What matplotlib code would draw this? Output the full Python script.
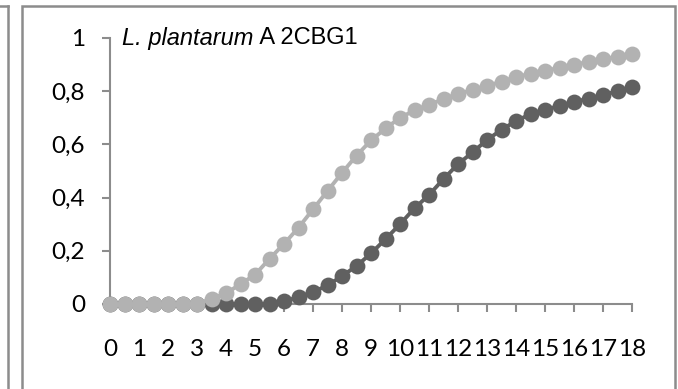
import matplotlib.pyplot as plt
import matplotlib.patches as patches
from matplotlib.lines import Line2D

# time points (half steps) and the two growth curves
t = [i * 0.5 for i in range(37)]
dark = [0, 0, 0, 0, 0, 0, 0, 0, 0, 0, 0, 0, 0.01, 0.026, 0.045, 0.07,
        0.105, 0.143, 0.19, 0.244, 0.30, 0.36, 0.41, 0.47, 0.526, 0.57,
        0.617, 0.655, 0.688, 0.714, 0.73, 0.745, 0.76, 0.772, 0.786, 0.80, 0.816]
light = [0, 0, 0, 0, 0, 0, 0, 0.02, 0.04, 0.075, 0.11, 0.17, 0.226, 0.287,
         0.356, 0.425, 0.493, 0.558, 0.615, 0.66, 0.70, 0.728, 0.75, 0.77,
         0.79, 0.805, 0.82, 0.836, 0.853, 0.866, 0.877, 0.888, 0.90, 0.91,
         0.92, 0.93, 0.94]

xticks = list(range(19))
xlabels = [str(v) for v in xticks]
yticks = [0, 0.2, 0.4, 0.6, 0.8, 1]
ylabels = ["0", "0,2", "0,4", "0,6", "0,8", "1"]

W, H = 678, 389
fig = plt.figure(figsize=(W / 100, H / 100), dpi=100)
ax = fig.add_axes([110 / W, 1 - 304 / H, (632 - 110) / W, (304 - 38) / H])

ax.plot(t, dark, color="#606060", lw=2.8, marker="o", ms=11.4,
        markeredgewidth=0, clip_on=False, zorder=3)
ax.plot(t, light, color="#b2b2b2", lw=2.8, marker="o", ms=11.4,
        markeredgewidth=0, clip_on=False, zorder=4)

ax.set_xlim(0, 18)
ax.set_ylim(0, 1)
ax.set_xticks(xticks)
ax.set_xticklabels(xlabels)
ax.set_yticks(yticks)
ax.set_yticklabels(ylabels)

for s in ["top", "right"]:
    ax.spines[s].set_visible(False)
for s in ["left", "bottom"]:
    ax.spines[s].set_color("#8c8c8c")
    ax.spines[s].set_linewidth(1.5)

ax.tick_params(axis="both", direction="out", length=6, width=1.5,
               color="#8c8c8c", labelsize=17.5, labelcolor="black")
ax.tick_params(axis="x", pad=19)
ax.tick_params(axis="y", pad=12)
for lab in ax.get_xticklabels() + ax.get_yticklabels():
    lab.set_fontfamily("Lato")

# title inside the plot: italic species name then strain
t1 = ax.text(0.43, 1.0, "L. plantarum", style="italic", fontsize=17,
             family="Liberation Sans", va="center", ha="left")
fig.canvas.draw()
bb = t1.get_window_extent()
x_end = ax.transData.inverted().transform((bb.x1, 0))[0]
ax.text(x_end, 1.0, " A 2CBG1", fontsize=17, family="Liberation Sans",
        va="center", ha="left")

# chart frame and the edge of the neighbouring panel
fig.add_artist(patches.Rectangle((22 / W, -0.05), (675 - 22) / W, 1.05 - 6 / H,
                                 transform=fig.transFigure, fill=False,
                                 edgecolor="#8c8c8c", lw=1.8))
fig.add_artist(Line2D([7.5 / W, 7.5 / W], [-0.05, 1 - 6 / H],
                      transform=fig.transFigure, color="#8c8c8c", lw=1.8))
fig.add_artist(Line2D([-0.01, 7.5 / W], [1 - 6 / H, 1 - 6 / H],
                      transform=fig.transFigure, color="#8c8c8c", lw=1.8))

fig.savefig("out.png", dpi=100)
